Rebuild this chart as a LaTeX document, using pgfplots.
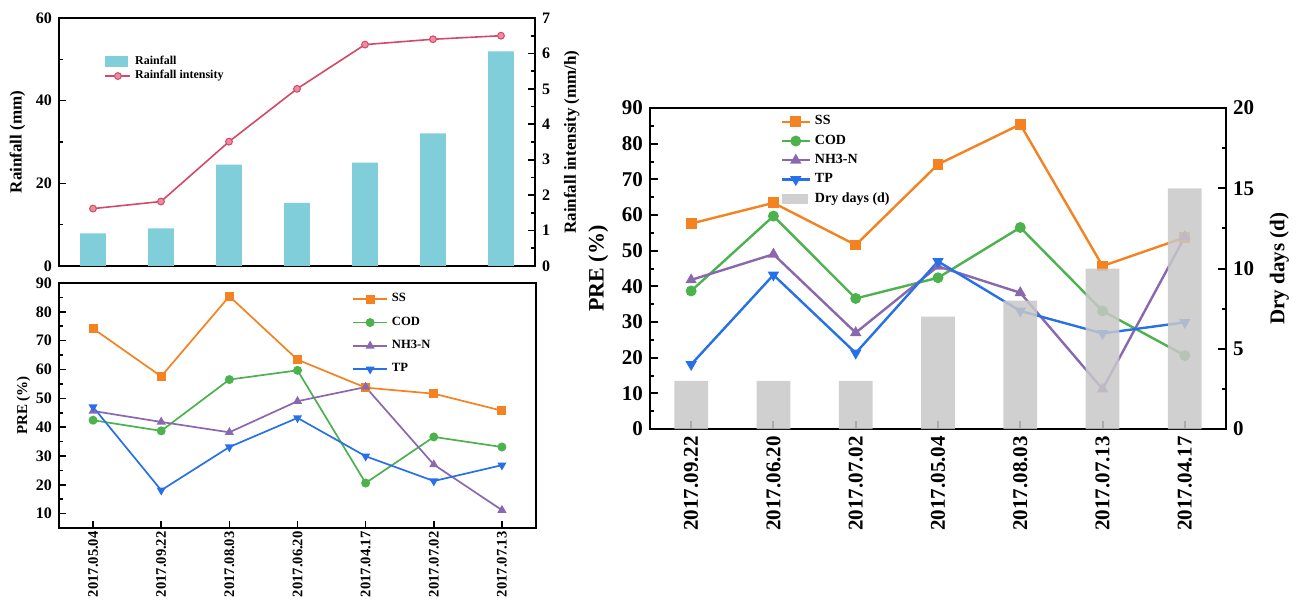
\documentclass[border=0pt]{standalone}
\usepackage{fontspec}
\setmainfont{Liberation Serif}
\usepackage{pgfplots}
\pgfplotsset{compat=1.18}

\definecolor{rainc}{RGB}{127,206,218}
\definecolor{intc}{RGB}{212,72,104}
\definecolor{intfill}{RGB}{236,140,160}
\definecolor{ssc}{RGB}{245,130,32}
\definecolor{codc}{RGB}{76,178,78}
\definecolor{nhc}{RGB}{137,104,176}
\definecolor{tpc}{RGB}{38,112,232}
\definecolor{dryc}{RGB}{200,200,200}

\newcommand{\fs}[1]{\fontsize{#1}{#1}\selectfont\bfseries}

\pgfplotsset{
  base/.style={
    scale only axis, xmin=-0.5, xmax=6.5, xtick={0,...,6},
    axis line style={line width=0.8pt},
    every tick/.style={black, line width=0.8pt},
    major tick length=3.5pt, minor tick length=1.8pt,
    /pgf/number format/assume math mode=true,
    legend cell align=left,
  },
  % line legend with a longer sample
  longleg/.style={legend image code/.code={%
    \draw[mark repeat=2,mark phase=2] plot coordinates {(0pt,0pt) (#1/2,0pt) (#1,0pt)};}},
  ss/.style={color=ssc, mark=square*, mark options={solid,fill=ssc}},
  cod/.style={color=codc, mark=*, mark options={solid,fill=codc}},
  nh/.style={color=nhc, mark=triangle*, mark options={solid,fill=nhc}},
  tp/.style={color=tpc, mark=triangle*, mark options={solid,fill=tpc,rotate=180}},
}

\begin{document}
\begin{tikzpicture}
\useasboundingbox (0,0) rectangle (650.5pt,-302pt);

% ---------- top left: rainfall ----------
\begin{axis}[base,
  at={(29.5pt,-133pt)}, anchor=south west, width=238pt, height=124pt,
  ymin=0, ymax=60, ytick={0,20,40,60}, minor y tick num=1,
  xticklabels={}, xtick pos=bottom, ytick pos=left,
  tick label style={font=\fs{8}},
  ylabel={Rainfall (mm)}, ylabel style={font=\fs{8.5}}, ylabel shift=-1.5pt,
]
\addplot[ybar, bar width=0.38, fill=rainc, draw=none] coordinates {
  (0,7.9) (1,9.1) (2,24.5) (3,15.3) (4,25.0) (5,32.1) (6,51.9)};
\end{axis}
\begin{axis}[base,
  at={(29.5pt,-133pt)}, anchor=south west, width=238pt, height=124pt,
  axis x line=none, axis y line*=right,
  ymin=0, ymax=7, ytick={0,...,7}, minor y tick num=1,
  tick label style={font=\fs{8}},
  ylabel={Rainfall intensity (mm/h)}, ylabel style={font=\fs{8.5}},
  legend style={at={(rel axis cs:0.095,0.865)}, anchor=north west, draw=none, fill=none,
    font=\fs{6}, row sep=-2.5pt, inner sep=0pt},
]
\addlegendimage{area legend, fill=rainc, draw=none,
  legend image code/.code={\fill[rainc] (0pt,-2.6pt) rectangle (11.5pt,2.6pt);}}
\addlegendentry{Rainfall}
\addplot[color=intc, line width=0.8pt, mark=*, mark size=1.7pt,
  mark options={fill=intfill, draw=intc, line width=0.5pt},
  longleg={12.5pt}] coordinates {
  (0,1.62) (1,1.82) (2,3.51) (3,5.0) (4,6.25) (5,6.40) (6,6.50)};
\addlegendentry{Rainfall intensity}
\end{axis}

% ---------- bottom left: PRE by date ----------
\begin{axis}[base,
  at={(29.5pt,-264pt)}, anchor=south west, width=238.5pt, height=122.5pt,
  ymin=5, ymax=90, ytick={10,20,...,90}, minor y tick num=1,
  xtick pos=bottom, ytick pos=left,
  xticklabels={2017.05.04,2017.09.22,2017.08.03,2017.06.20,2017.04.17,2017.07.02,2017.07.13},
  xticklabel style={rotate=90, anchor=east, font=\fs{7.3}, inner sep=1.5pt},
  yticklabel style={font=\fs{8}},
  ylabel={PRE (\%)}, ylabel style={font=\fs{7.5}}, ylabel shift=-4pt,
  every axis plot/.append style={line width=0.85pt, mark size=1.8pt},
  legend style={at={(rel axis cs:0.614,0.975)}, anchor=north west, draw=none, fill=none,
    font=\fs{6.3}, row sep=2pt, inner sep=0pt},
]
\addplot[ss, longleg={17pt}] coordinates {
  (0,74.2) (1,57.6) (2,85.4) (3,63.4) (4,53.7) (5,51.6) (6,45.7)};
\addlegendentry{SS}
\addplot[cod, longleg={17pt}] coordinates {
  (0,42.4) (1,38.7) (2,56.5) (3,59.7) (4,20.6) (5,36.6) (6,33.1)};
\addlegendentry{COD}
\addplot[nh, longleg={17pt}] coordinates {
  (0,45.6) (1,41.8) (2,38.2) (3,49.0) (4,53.9) (5,27.0) (6,11.2)};
\addlegendentry{NH3-N}
\addplot[tp, longleg={17pt}] coordinates {
  (0,47.0) (1,18.1) (2,33.1) (3,43.2) (4,29.9) (5,21.3) (6,26.8)};
\addlegendentry{TP}
\end{axis}

% ---------- right: PRE and dry days ----------
\begin{axis}[base,
  at={(325pt,-214.5pt)}, anchor=south west, width=288pt, height=160.5pt,
  axis line style={line width=1pt}, every tick/.style={black, line width=1pt},
  major tick length=4pt, minor tick length=2pt,
  ymin=0, ymax=90, ytick={0,10,...,90}, minor y tick num=1,
  xtick pos=bottom, ytick pos=left,
  xticklabels={2017.09.22,2017.06.20,2017.07.02,2017.05.04,2017.08.03,2017.07.13,2017.04.17},
  xticklabel style={rotate=90, anchor=east, font=\fs{10.5}},
  yticklabel style={font=\fs{10.5}},
  ylabel={PRE (\%)}, ylabel style={font=\fs{11}},
  every axis plot/.append style={line width=1.2pt, mark size=2.1pt},
]
\addplot[ss] coordinates {
  (0,57.6) (1,63.4) (2,51.6) (3,74.2) (4,85.4) (5,45.7) (6,53.7)};
\addplot[cod] coordinates {
  (0,38.7) (1,59.7) (2,36.6) (3,42.4) (4,56.5) (5,33.1) (6,20.6)};
\addplot[nh] coordinates {
  (0,41.8) (1,49.0) (2,27.0) (3,45.6) (4,38.2) (5,11.2) (6,53.9)};
\addplot[tp] coordinates {
  (0,18.1) (1,43.2) (2,21.3) (3,47.0) (4,33.1) (5,26.8) (6,29.9)};
\end{axis}
\begin{axis}[base,
  at={(325pt,-214.5pt)}, anchor=south west, width=288pt, height=160.5pt,
  axis line style={line width=1pt}, every tick/.style={black, line width=1pt},
  major tick length=4pt, minor tick length=2pt,
  axis x line=none, axis y line*=right,
  ymin=0, ymax=20, ytick={0,5,...,20}, minor y tick num=1,
  yticklabel style={font=\fs{10.5}},
  ylabel={Dry days (d)}, ylabel style={font=\fs{10.5}}, ylabel shift=1pt,
  legend style={at={(rel axis cs:0.226,0.99)}, anchor=north west, draw=none, fill=none,
    font=\fs{7}, row sep=-0.5pt, inner sep=0pt},
]
\addlegendimage{ss, line width=1.2pt, mark size=2.1pt, longleg={14pt}}
\addlegendentry{SS}
\addlegendimage{cod, line width=1.2pt, mark size=2.1pt, longleg={14pt}}
\addlegendentry{COD}
\addlegendimage{nh, line width=1.2pt, mark size=2.1pt, longleg={14pt}}
\addlegendentry{NH3-N}
\addlegendimage{tp, line width=1.2pt, mark size=2.1pt, longleg={14pt}}
\addlegendentry{TP}
\addplot[ybar, bar width=0.41, fill=dryc, draw=none, fill opacity=0.85, area legend,
  legend image code/.code={\fill[dryc] (0pt,-2.4pt) rectangle (13pt,2.4pt);}] coordinates {
  (0,3) (1,3) (2,3) (3,7) (4,8) (5,10) (6,15)};
\addlegendentry{Dry days (d)}
\end{axis}
\end{tikzpicture}
\end{document}
